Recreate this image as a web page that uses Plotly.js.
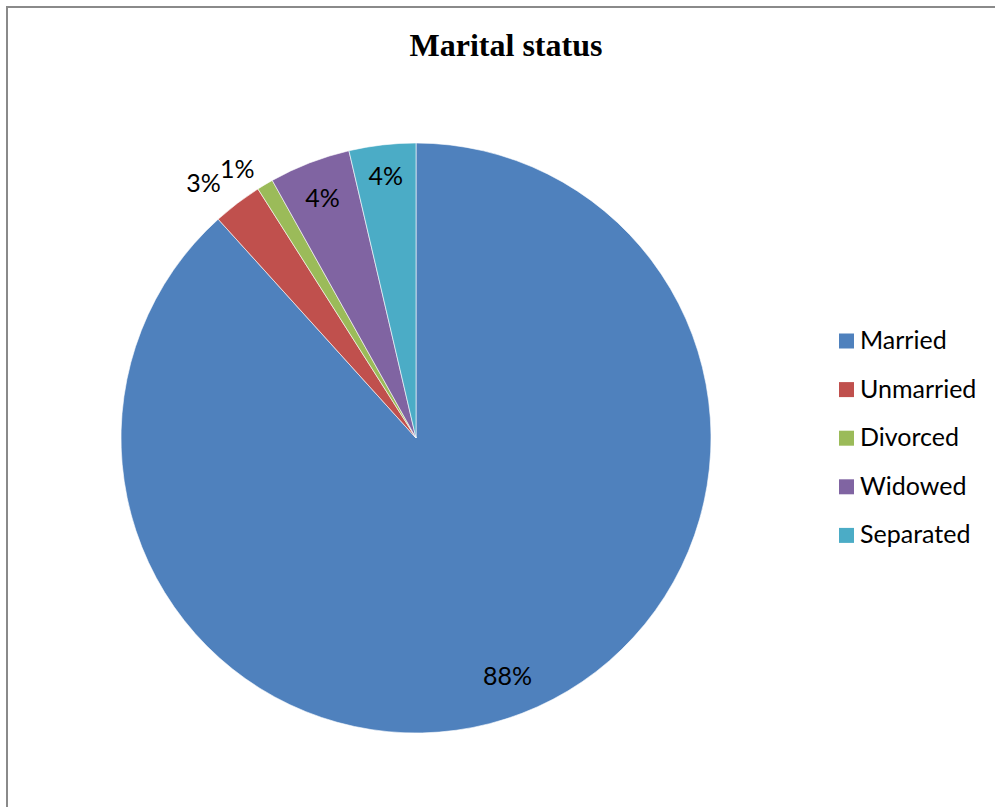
<!DOCTYPE html>
<html>
<head>
<meta charset="utf-8">
<script src="https://cdn.plot.ly/plotly-3.0.1.min.js"></script>
<style>
  html, body { margin: 0; padding: 0; background: #fff; }
  #wrap { position: relative; width: 995px; height: 807px; }
  #chart { position: absolute; left: 0; top: 0; width: 995px; height: 807px; }
  #frame { position: absolute; left: 6px; top: 6px; right: 0; bottom: 0;
           border-left: 2px solid #8a8a8a; border-top: 2px solid #8a8a8a; pointer-events: none; }
</style>
</head>
<body>
<div id="wrap">
  <div id="chart"></div>
  <div id="frame"></div>
</div>
<script>
// Data
const categories = ["Married", "Unmarried", "Divorced", "Widowed", "Separated"];
const values = [88.3, 2.7, 0.9, 4.45, 3.65];
const colors = ["#4F81BD", "#C0504D", "#9BBB59", "#8064A2", "#4BACC6"];

const W = 995, H = 807;
const CX = 416, CY = 438, R = 295;
const labelFont = "Lato, 'Open Sans', sans-serif";
const fs = 25;
const pct = "%{percent:.0%}";
function domFor(r) {
  return { x: [(CX - r) / W, (CX + r) / W], y: [1 - (CY + r) / H, 1 - (CY - r) / H] };
}
const clear = categories.map(() => "rgba(0,0,0,0)");

function pieTrace(extra) {
  return Object.assign({
    type: "pie",
    labels: categories,
    values: values,
    sort: false,
    direction: "clockwise",
    rotation: 0,
    insidetextorientation: "horizontal",
    textfont: { family: labelFont, size: fs, color: "#000000" },
    showlegend: false,
    hoverinfo: "skip"
  }, extra);
}

// Main pie: slices + inside labels of the narrow slices
const mainTrace = pieTrace({
  marker: { colors: colors, line: { color: "#ffffff", width: 0.6 } },
  texttemplate: ["", "", "", pct, pct],
  textposition: ["none", "none", "none", "inside", "inside"],
  hoverinfo: "label+percent",
  domain: domFor(R)
});

// Transparent ring carrying the big slice label and the "1%" label
const ringTrace = pieTrace({
  hole: 0.69,
  marker: { colors: clear, line: { width: 0 } },
  texttemplate: [pct, "", pct, "", ""],
  textposition: ["inside", "none", "outside", "none", "none"],
  domain: domFor(R + 6)
});

// Transparent pie carrying the "3%" label
const outerTrace = pieTrace({
  marker: { colors: clear, line: { width: 0 } },
  texttemplate: ["", pct, "", "", ""],
  textposition: ["none", "outside", "none", "none", "none"],
  domain: domFor(R + 15)
});

// Custom legend built from categories/colors
const shapes = [];
const annotations = [];
const legTop = 341, legStep = 48.6;
categories.forEach((c, i) => {
  const yc = legTop + i * legStep;
  shapes.push({
    type: "rect", xref: "paper", yref: "paper",
    x0: 839 / W, x1: 854 / W,
    y0: 1 - (yc + 7.5) / H, y1: 1 - (yc - 7.5) / H,
    fillcolor: colors[i], line: { width: 0 }
  });
  annotations.push({
    xref: "paper", yref: "paper",
    x: 858 / W, y: 1 - (yc - 2) / H,
    xanchor: "left", yanchor: "middle",
    text: c, showarrow: false,
    font: { family: labelFont, size: fs, color: "#000000" }
  });
});

const layout = {
  width: W, height: H,
  margin: { l: 0, r: 0, t: 0, b: 0 },
  paper_bgcolor: "#ffffff",
  title: {
    text: "<b>Marital status</b>",
    font: { family: "'Liberation Serif', 'Times New Roman', serif", size: 32, color: "#000000" },
    x: 506 / W, xanchor: "center",
    y: 1 - 45 / H, yanchor: "middle",
    xref: "paper", yref: "container"
  },
  uniformtext: { mode: "show", minsize: fs },
  showlegend: false,
  shapes: shapes,
  annotations: annotations
};

Plotly.newPlot("chart", [mainTrace, ringTrace, outerTrace], layout, { displayModeBar: false, staticPlot: true });
</script>
</body>
</html>
